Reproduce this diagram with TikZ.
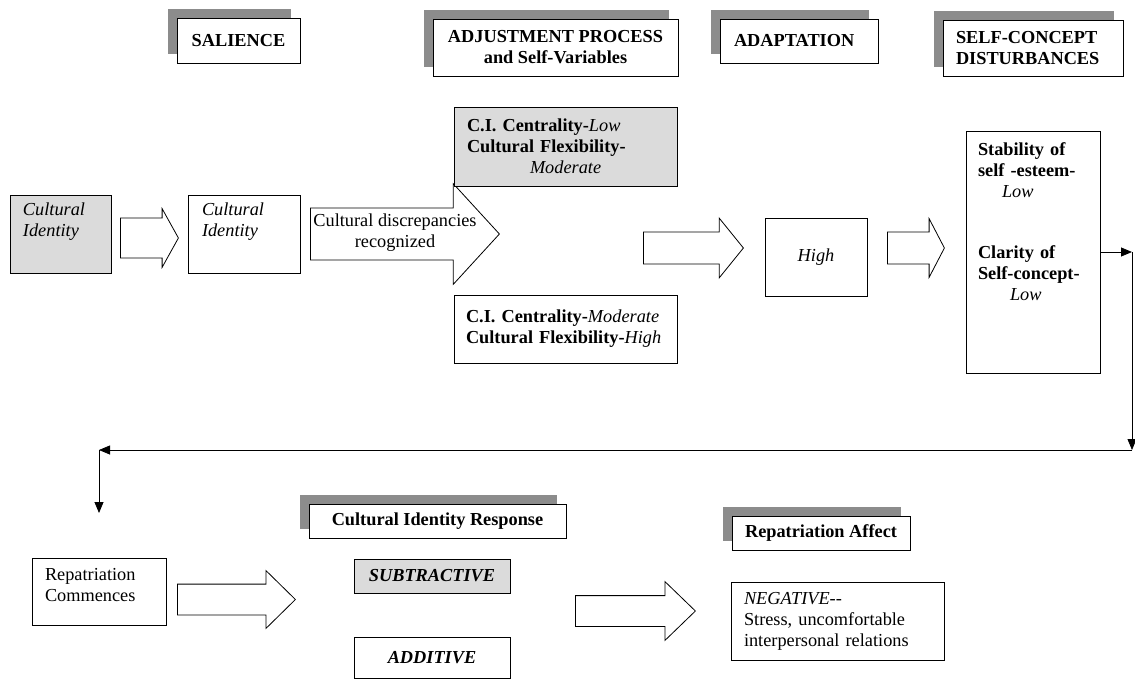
\documentclass[tikz,border=0pt]{standalone}
\usepackage{fontspec}
\setmainfont{Liberation Serif}
\usetikzlibrary{shapes.arrows, shadows, arrows.meta}
\definecolor{shadegray}{gray}{0.86}
\definecolor{shadowgray}{gray}{0.55}
\newcommand{\sz}{\fontsize{18.3}{21}\selectfont}
\newcommand{\padbelow}[1]{\rule[-#1]{0pt}{0pt}}

\begin{document}
\begin{tikzpicture}[x=1pt, y=-1pt, line width=0.8pt, font=\sz,
  box/.style={draw, rectangle, inner sep=0pt},
  hdr/.style={box, fill=white, font=\sz\bfseries,
    general shadow={fill=shadowgray, shadow xshift=-9pt, shadow yshift=9pt}},
  fat/.style={single arrow, draw, fill=white, inner xsep=0pt, anchor=tail},
  flow/.style={-{Triangle[length=11pt,width=9pt]}}]
  \useasboundingbox (0,0) rectangle (1135,679);

  % headings
  \node[hdr, minimum width=123pt, minimum height=45pt] (salience) at (238.5,40.5) {SALIENCE};
  \node[hdr, align=center, minimum width=245pt, minimum height=57pt] (adjust) at (555.5,47.5) {ADJUSTMENT PROCESS\\and Self-Variables};
  \node[hdr, align=left, text width=130pt, minimum width=158pt, minimum height=44pt] (adapt) at (799,41) {ADAPTATION};
  \node[hdr, align=left, text width=154pt, minimum width=180pt, minimum height=56pt] (disturb) at (1033,48) {SELF-CONCEPT\\DISTURBANCES};

  % first row
  \node[box, fill=shadegray, align=left, text width=75pt, minimum width=101pt, minimum height=78pt, font=\sz\itshape] (ci0) at (60.5,234) {Cultural\\Identity\padbelow{28pt}};
  \node[fat, inner ysep=19.5pt, minimum height=58pt, single arrow head extend=9.5pt, single arrow tip angle=122] (a1) at (120,238) {};
  \node[box, align=left, text width=84pt, minimum width=112pt, minimum height=78pt, font=\sz\itshape] (ci1) at (244,234) {Cultural\\Identity\padbelow{28pt}};
  \node[fat, inner ysep=25.5pt, minimum height=189pt, single arrow head extend=24.5pt, single arrow tip angle=95] (a2) at (310,234) {};
  \node[align=center] (disc) at (395,233) {Cultural discrepancies\\recognized};
  \node[box, fill=shadegray, align=left, text width=197pt, minimum width=223pt, minimum height=79pt] (low) at (565.5,146.5) {\textbf{C.I. Centrality-}\textit{Low}\\\textbf{Cultural Flexibility-}\\\hspace*{63pt}\textit{Moderate}};
  \node[box, align=left, text width=199pt, minimum width=223pt, minimum height=68pt] (mod) at (565.5,329) {\textbf{C.I. Centrality-}\textit{Moderate}\\\textbf{Cultural Flexibility-}\textit{High}};
  \node[fat, inner ysep=15.5pt, minimum height=100pt, single arrow head extend=14pt, single arrow tip angle=102] (a3) at (643,248) {};
  \node[box, minimum width=102pt, minimum height=78pt, font=\sz\itshape] (high) at (816,257) {High};
  \node[fat, inner ysep=15.5pt, minimum height=57pt, single arrow head extend=13.5pt, single arrow tip angle=125] (a4) at (887,248) {};
  \node[box, align=left, text width=110pt, minimum width=134pt, minimum height=242pt] (sc) at (1033,252) {\textbf{Stability of}\\\textbf{self -esteem-}\\\hspace*{24pt}\textit{Low}\\[40pt]\textbf{Clarity of}\\\textbf{Self-concept-}\\\hspace*{32pt}\textit{Low}\padbelow{60pt}};

  % return path
  \coordinate (c1) at (1132,252);
  \coordinate (c2) at (1132,450);
  \coordinate (c3) at (99,450);
  \coordinate (c4) at (99,513);
  \path[flow] (sc) edge (c1)
              (c1) edge (c2)
              (c2) edge (c3)
              (c3) edge (c4);

  % second row
  \node[box, align=left, text width=108pt, minimum width=134pt, minimum height=67pt] (rep) at (99,591.5) {Repatriation\\Commences\padbelow{14pt}};
  \node[fat, inner ysep=15pt, minimum height=118pt, single arrow head extend=13.5pt, single arrow tip angle=89] (a5) at (177,599.5) {};
  \node[hdr, minimum width=257pt, minimum height=34pt] (cir) at (437.5,521) {Cultural Identity Response};
  \node[box, fill=shadegray, minimum width=156pt, minimum height=34pt, font=\sz\bfseries\itshape] (sub) at (432,576) {SUBTRACTIVE};
  \node[box, minimum width=156pt, minimum height=41pt, font=\sz\bfseries\itshape] (add) at (432,657.5) {ADDITIVE};
  \node[fat, inner ysep=15pt, minimum height=120pt, single arrow head extend=14pt, single arrow tip angle=88] (a6) at (575,611) {};
  \node[hdr, minimum width=178pt, minimum height=34pt] (ra) at (821,533) {Repatriation Affect};
  \node[box, align=left, text width=187pt, minimum width=213pt, minimum height=78pt] (neg) at (837.5,621) {\textit{NEGATIVE}-{}-\\Stress, uncomfortable\\interpersonal relations};
\end{tikzpicture}
\end{document}
